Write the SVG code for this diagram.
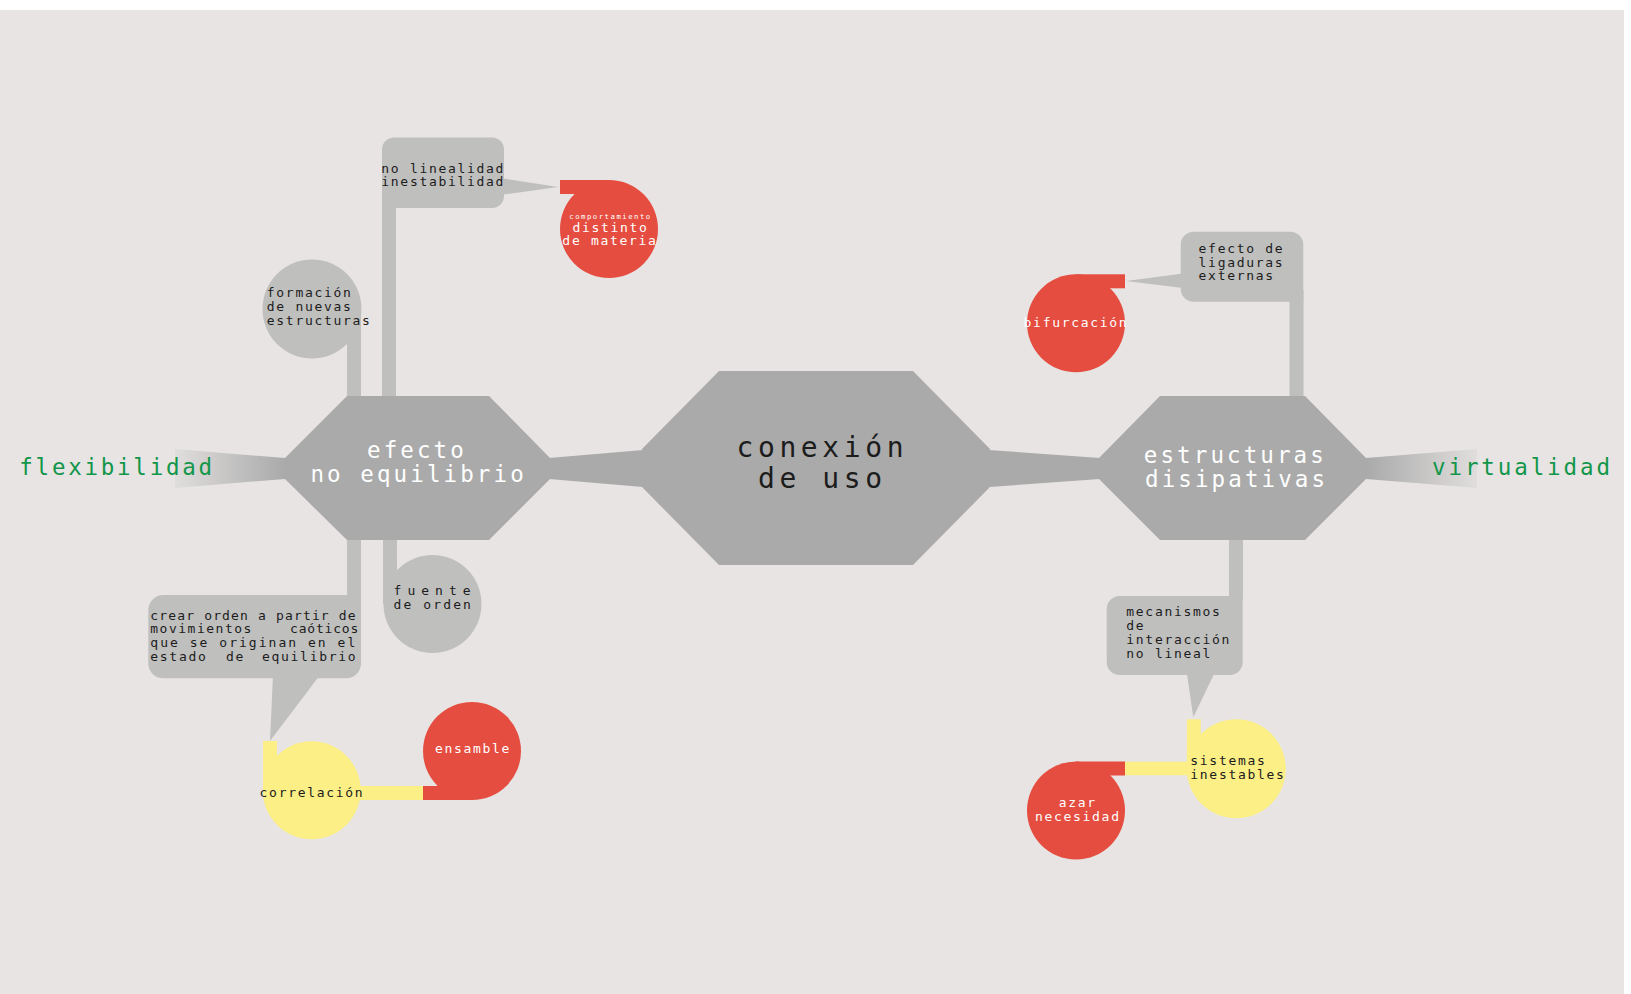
<svg xmlns="http://www.w3.org/2000/svg" width="1631" height="994" viewBox="0 0 1631 994">
<style>
.t{font-family:'DejaVu Sans Mono','Liberation Mono',monospace}
.s{font-size:13px;letter-spacing:1.7px;fill:#1c1c1c}
.sw{font-size:13px;letter-spacing:1.7px;fill:#ffffff}
.hx{font-size:22.5px;letter-spacing:3.1px;fill:#ffffff}
.big{font-size:28px;letter-spacing:4.6px;fill:#1c1c1c}
.g{font-size:22.5px;fill:#12964a}
.hex{fill:#aaaaaa}
.lg{fill:#bfbfbe}
.red{fill:#e54d40}
.yel{fill:#fbef86}
</style>
<defs>
<linearGradient id="fadeL" gradientUnits="userSpaceOnUse" x1="175" y1="0" x2="285" y2="0">
<stop offset="0" stop-color="#e0dedd"/>
<stop offset="1" stop-color="#aaaaaa"/>
</linearGradient>
<linearGradient id="fadeR" gradientUnits="userSpaceOnUse" x1="1477" y1="0" x2="1366" y2="0">
<stop offset="0" stop-color="#e0dedd"/>
<stop offset="1" stop-color="#aaaaaa"/>
</linearGradient>
</defs>
<rect x="0" y="0" width="1631" height="994" fill="#ffffff"/>
<rect x="0" y="10" width="1624" height="984" fill="#e8e4e3"/>

<g id="connectors">
<polygon points="175,449 285,458 285,479 175,488" fill="url(#fadeL)"/>
<polygon points="1477,449 1366,458 1366,479 1477,488" fill="url(#fadeR)"/>
<polygon class="hex" points="549,458 643,450 643,487 549,479"/>
<polygon class="hex" points="989,450 1100,458 1100,479 989,487"/>
<rect class="lg" x="382" y="200" width="14" height="197"/>
<rect class="lg" x="347" y="309" width="14" height="88"/>
<rect class="lg" x="347" y="539" width="14" height="60"/>
<rect class="lg" x="383" y="539" width="14" height="65"/>
<rect class="lg" x="1289.5" y="290" width="14" height="107"/>
<rect class="lg" x="1229" y="539" width="14" height="60"/>
<polygon class="lg" points="500,178 500,195 558,187"/>
<polygon class="lg" points="273,675 320,675 270,741"/>
<polygon class="lg" points="1185,273.3 1185,288.3 1126,281"/>
<polygon class="lg" points="1186.7,672 1215,672 1193.3,717.3"/>
<rect class="yel" x="311" y="786" width="113" height="14"/>
<rect class="yel" x="1124" y="761.7" width="112" height="13.5"/>
</g>

<g id="node-conexion">
<polygon class="hex" points="719,371 913,371 990,449 990,487 913,565 719,565 642,487 642,449"/>
<text class="t big" x="736.5" y="457.3">conexión</text>
<text class="t big" x="758" y="488.3">de uso</text>
</g>

<g id="node-efecto">
<polygon class="hex" points="347,396 489,396 550,458 550,479 489,540 347,540 285,479 285,458"/>
<text class="t hx" x="367" y="457.7">efecto</text>
<text class="t hx" x="310.4" y="481.7">no equilibrio</text>
</g>

<g id="node-estructuras">
<polygon class="hex" points="1160,396 1305,396 1366,458 1366,479 1305,540 1160,540 1099,479 1099,458"/>
<text class="t hx" x="1143.8" y="462.7">estructuras</text>
<text class="t hx" x="1145" y="487.3">disipativas</text>
</g>

<g id="node-flexibilidad">
<text class="t g" x="19.3" y="475" style="letter-spacing:2.75px">flexibilidad</text>
</g>

<g id="node-virtualidad">
<text class="t g" x="1432" y="475" style="letter-spacing:2.9px">virtualidad</text>
</g>

<g id="node-nolinealidad">
<path class="lg" d="M382,149.5 A12,12 0 0 1 394,137.5 H492 A12,12 0 0 1 504,149.5 V196 A12,12 0 0 1 492,208 H382 Z"/>
<text class="t s" x="381.3" y="172.7">no linealidad</text>
<text class="t s" x="381.3" y="186">inestabilidad</text>
</g>

<g id="node-comportamiento">
<circle class="red" cx="609" cy="229" r="49"/>
<rect class="red" x="560" y="180" width="49" height="14"/>
<text class="t" x="610.5" y="218.7" text-anchor="middle" style="font-size:7.3px;letter-spacing:1.5px;fill:#fff">comportamiento</text>
<text class="t sw" x="610.5" y="231.7" text-anchor="middle">distinto</text>
<text class="t sw" x="610" y="245" text-anchor="middle">de materia</text>
</g>

<g id="node-formacion">
<circle class="lg" cx="312" cy="309" r="49.5"/>
<text class="t s" x="266.8" y="296.7">formación</text>
<text class="t s" x="266.8" y="311">de nuevas</text>
<text class="t s" x="266.8" y="325">estructuras</text>
</g>

<g id="node-fuente">
<circle class="lg" cx="432.5" cy="604" r="49"/>
<text class="t s" x="393.6" y="595" style="letter-spacing:6px">fuente</text>
<text class="t s" x="393.6" y="609" style="letter-spacing:2.1px">de orden</text>
</g>

<g id="node-crear">
<path class="lg" d="M148.3,610 A15,15 0 0 1 163.3,595 H361 V663.3 A15,15 0 0 1 346,678.3 H163.3 A15,15 0 0 1 148.3,663.3 Z"/>
<text class="t s" x="150.3" y="620" style="letter-spacing:1.15px">crear orden a partir de</text>
<text class="t s" y="633.3"><tspan x="150.3" style="letter-spacing:1.5px">movimientos</tspan><tspan x="290" style="letter-spacing:0.8px">caóticos</tspan></text>
<text class="t s" x="150.3" y="647.3" style="letter-spacing:2.03px">que se originan en el</text>
<text class="t s" y="660.7"><tspan x="150.3">estado</tspan><tspan x="226">de</tspan><tspan x="262">equilibrio</tspan></text>
</g>

<g id="node-correlacion">
<circle class="yel" cx="311.7" cy="790.3" r="49"/>
<rect class="yel" x="263" y="741" width="14" height="49"/>
<text class="t s" x="312" y="796.7" text-anchor="middle">correlación</text>
</g>

<g id="node-ensamble">
<circle class="red" cx="472" cy="751" r="49"/>
<rect class="red" x="423" y="786" width="49" height="14"/>
<text class="t sw" x="473" y="752.7" text-anchor="middle">ensamble</text>
</g>

<g id="node-ligaduras">
<path class="lg" d="M1180.7,244.7 A13,13 0 0 1 1193.7,231.7 H1290.3 A13,13 0 0 1 1303.3,244.7 V301.7 H1193.7 A13,13 0 0 1 1180.7,288.7 Z"/>
<text class="t s" x="1198.6" y="252.7">efecto de</text>
<text class="t s" x="1198.6" y="266.7">ligaduras</text>
<text class="t s" x="1198.6" y="280">externas</text>
</g>

<g id="node-bifurcacion">
<circle class="red" cx="1076" cy="323.3" r="49"/>
<rect class="red" x="1076" y="274.3" width="49" height="14"/>
<text class="t sw" x="1076" y="327.3" text-anchor="middle">bifurcación</text>
</g>

<g id="node-mecanismos">
<path class="lg" d="M1106.7,609 A13,13 0 0 1 1119.7,596 H1242.7 V662 A13,13 0 0 1 1229.7,675 H1119.7 A13,13 0 0 1 1106.7,662 Z"/>
<text class="t s" x="1126.3" y="616">mecanismos</text>
<text class="t s" x="1126.3" y="630">de</text>
<text class="t s" x="1126.3" y="644">interacción</text>
<text class="t s" x="1126.3" y="658.3">no lineal</text>
</g>

<g id="node-sistemas">
<circle class="yel" cx="1236.3" cy="768.8" r="49.5"/>
<rect class="yel" x="1186.8" y="719.3" width="14" height="49.5"/>
<text class="t s" x="1190.3" y="765">sistemas</text>
<text class="t s" x="1190.3" y="779.3">inestables</text>
</g>

<g id="node-azar">
<circle class="red" cx="1076" cy="810.5" r="49"/>
<rect class="red" x="1076" y="761.5" width="49" height="14"/>
<text class="t sw" x="1077.8" y="806.7" text-anchor="middle">azar</text>
<text class="t sw" x="1077.8" y="820.7" text-anchor="middle">necesidad</text>
</g>
</svg>
